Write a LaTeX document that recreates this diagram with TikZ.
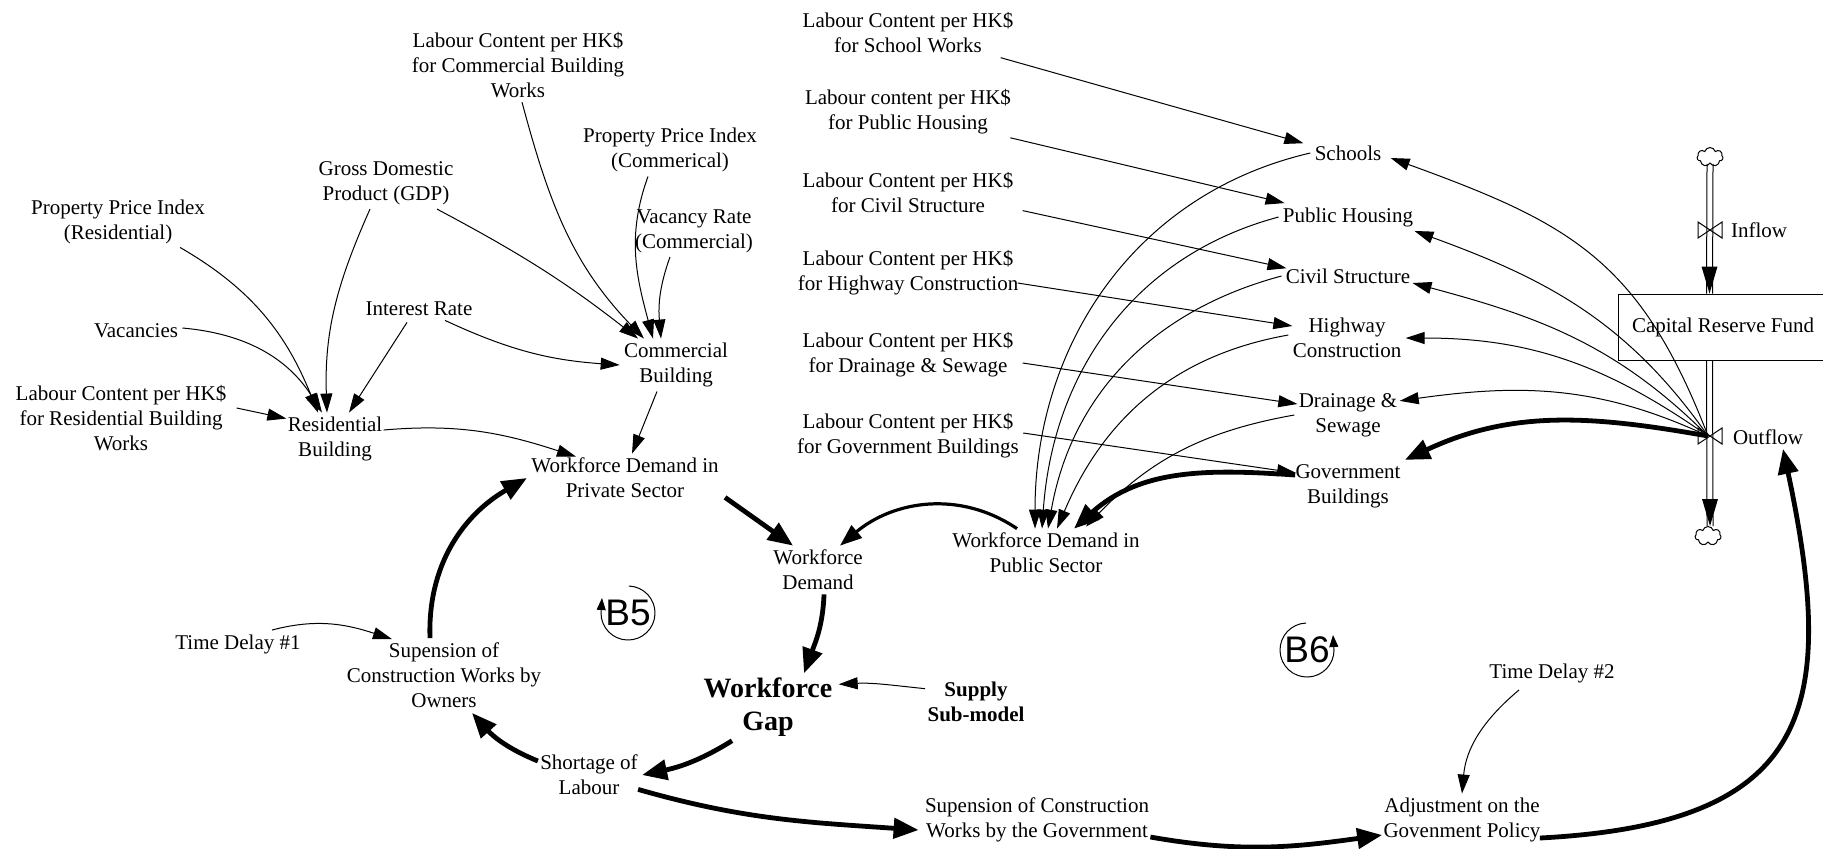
\documentclass[tikz,border=0pt]{standalone}
\usepackage{fontspec}
\setmainfont{Liberation Serif}
\newfontfamily\loopfont{Liberation Sans}
\usetikzlibrary{arrows.meta,calc,shapes.symbols}
\begin{document}
\begin{tikzpicture}[x=0.5pt,y=-0.5pt,
  lbl/.style={align=center,inner sep=2pt,font=\fontsize{10.5}{12.5}\selectfont},
  bold/.style={align=center,inner sep=2pt,font=\bfseries\fontsize{10.5}{12.5}\selectfont},
  big/.style={align=center,inner sep=2pt,font=\bfseries\fontsize{14}{16.5}\selectfont},
  loopsym/.style={inner sep=0pt,font=\loopfont\fontsize{18.5}{20}\selectfont},
  lnk/.style={line width=0.5pt,-{Triangle[length=9.5pt,width=6pt]}},
  lnkB/.style={line width=2.4pt,-{Triangle[length=12.5pt,width=10pt]}},
  lnkM/.style={line width=1.6pt,-{Triangle[length=11pt,width=8pt]}},
  looptip/.style={line width=0.5pt,-{Triangle[length=6pt,width=4.5pt]}},
  pipe/.style={line width=0.5pt},
  cloudy/.style={cloud,draw,line width=0.5pt,cloud puffs=7,aspect=1.4,minimum width=13pt,minimum height=9.5pt,inner sep=0pt},
]
\useasboundingbox (0,0) rectangle (1823,848);
\clip (0,0) rectangle (1823,848);

% ---------- left (private sector) ----------
\node[lbl] (labcom) at (518,65) {Labour Content per HK\$\\for Commercial Building\\Works};
\node[lbl] (ppicom) at (670,150) {Property Price Index\\(Commerical)};
\node[lbl] (gdp) at (386,183) {Gross Domestic\\Product (GDP)};
\node[lbl] (ppires) at (118,222) {Property Price Index\\(Residential)};
\node[lbl] (vacrate) at (694,231) {Vacancy Rate\\(Commercial)};
\node[lbl] (interest) at (419,309) {Interest Rate};
\node[lbl] (vacancies) at (136,331) {Vacancies};
\node[lbl] (commercial) at (676,365) {Commercial\\Building};
\node[lbl] (labres) at (121,418) {Labour Content per HK\$\\for Residential Building\\Works};
\node[lbl] (residential) at (335,439) {Residential\\Building};
\node[lbl] (wdpriv) at (625,478) {Workforce Demand in\\Private Sector};
\node[lbl] (wd) at (818,570) {Workforce\\Demand};
\node[lbl] (wdpub) at (1046,553) {Workforce Demand in\\Public Sector};
\node[big] (wg) at (768,707) {Workforce\\Gap};
\node[bold] (supply) at (976,702) {Supply\\Sub-model};
\node[lbl] (td1) at (238,644) {Time Delay \#1};
\node[lbl] (supown) at (444,675) {Supension of\\Construction Works by\\Owners};
\node[lbl] (shortage) at (589,775) {Shortage of\\Labour};
\node[lbl] (supgov) at (1037,820) {Supension of Construction\\Works by the Government};
\node[lbl] (adj) at (1462,820) {Adjustment on the\\Govenment Policy};
\node[lbl] (td2) at (1552,673) {Time Delay \#2};
\node[loopsym] (b5) at (628,613) {B5};
\node[loopsym] (b6) at (1307,650) {B6};

% ---------- right (public sector) ----------
\node[lbl] (labsch) at (908,33) {Labour Content per HK\$\\for School Works};
\node[lbl] (labph) at (908,112) {Labour content per HK\$\\for Public Housing};
\node[lbl] (labcivil) at (908,192) {Labour Content per HK\$\\for Civil Structure};
\node[lbl] (labhw) at (908,273) {Labour Content per HK\$\\for Highway Construction};
\node[lbl] (labdr) at (908,355) {Labour Content per HK\$\\for Drainage \& Sewage};
\node[lbl] (labgov) at (908,436) {Labour Content per HK\$\\for Government Buildings};
\node[lbl] (schools) at (1348,153) {Schools};
\node[lbl] (ph) at (1348,217) {Public Housing};
\node[lbl] (civil) at (1348,276) {Civil Structure};
\node[lbl] (hw) at (1347,338) {Highway\\Construction};
\node[lbl] (drain) at (1348,415) {Drainage \&\\Sewage};
\node[lbl] (gov) at (1348,486) {Government\\Buildings};

% ---------- stock and flows ----------
\node[draw,line width=0.5pt,minimum width=111pt,minimum height=33pt,inner sep=0pt] (crf) at (1729,327) {};
\node[lbl] (crftext) at (1723,327) {Capital Reserve Fund};
\node[cloudy] (cloudin) at (1710,157) {};
\node[cloudy] (cloudout) at (1708,536) {};
\coordinate (inval) at (1710,230);
\coordinate (outvalve) at (1708,436);
\coordinate (intop) at ($(crf.north west)+(92,0)$);
\coordinate (outbot) at ($(crf.south west)+(92,0)$);
\coordinate (outend) at ($(cloudout.north)+(2,0)$);
\node[lbl] (inlab) at (1759,230) {Inflow};
\node[lbl] (outlab) at (1768,437) {Outflow};

\draw[pipe] ($(cloudin.south)+(-3,0)$) -- ($(intop)+(-3,0)$);
\draw[pipe] ($(cloudin.south)+(3,0)$) -- ($(intop)+(3,0)$);
\fill ($(intop)+(-8,-27)$) -- (intop) -- ($(intop)+(8,-27)$) -- cycle;
\draw[pipe] ($(outbot)+(-3,0)$) -- ($(outend)+(-3,0)$);
\draw[pipe] ($(outbot)+(3,0)$) -- ($(outend)+(3,0)$);
\fill ($(outend)+(-8,-27)$) -- (outend) -- ($(outend)+(8,-27)$) -- cycle;
\draw[pipe] ($(inval)+(-12,-8)$) -- ($(inval)+(12,8)$) -- ($(inval)+(12,-8)$) -- ($(inval)+(-12,8)$) -- cycle;
\draw[pipe] ($(outvalve)+(-10,-8)$) -- ($(outvalve)+(14,8)$) -- ($(outvalve)+(14,-8)$) -- ($(outvalve)+(-10,8)$) -- cycle;

% ---------- loop symbols ----------
\draw[line width=0.5pt] ($(b5.center)+(88:13.5pt)$) arc[start angle=88,end angle=-180,radius=13.5pt];
\draw[looptip] ($(b5.center)+(180:13.5pt)$) -- ++(1,-15);
\draw[line width=0.5pt] ($(b6.center)+(92:13.5pt)$) arc[start angle=92,end angle=360,radius=13.5pt];
\draw[looptip] ($(b6.center)+(0:13.5pt)$) -- ++(-1,-15);

% ---------- private-sector links ----------
\draw[lnk] ($(labcom.south)+(4,0)$) to[out=285,in=134] ($(commercial.north)+(-32,0)$);
\draw[lnk] ($(gdp.south)+(51,0)$) to[out=332,in=142] ($(commercial.north)+(-38,0)$);
\draw[lnk] ($(gdp.south)+(-16,0)$) to[out=246,in=92] ($(residential.north)+(-8,0)$);
\draw[lnk] ($(ppicom.south)+(-22,0)$) to[out=250,in=105] ($(commercial.north)+(-23,0)$);
\draw[lnk] ($(vacrate.south)+(-24,0)$) to[out=250,in=95] ($(commercial.north)+(-15,0)$);
\draw[lnk] ($(interest.south)+(26,0)$) to[out=335,in=176] (commercial.west);
\draw[lnk] ($(interest.south)+(-12,2)$) -- ($(residential.north)+(14,0)$);
\draw[lnk] ($(ppires.south)+(62,-1)$) to[out=330,in=112] ($(residential.north)+(-17,0)$);
\draw[lnk] ($(vacancies.east)+(0,-3)$) to[out=355,in=122] ($(residential.north)+(-13,0)$);
\draw[lnk] ($(labres.east)+(6,-10)$) -- ($(residential.north west)+(3,6)$);
\draw[lnk] ($(residential.east)+(-3,-9)$) to[out=5,in=162] ($(wdpriv.north)+(-49,3)$);
\draw[lnk] ($(commercial.south)+(-19,0)$) -- ($(wdpriv.north)+(7,0)$);

% ---------- main loop links ----------
\draw[lnkB] ($(supown.north)+(-14,0)$) to[out=92,in=210] (wdpriv.west);
\draw[lnkB] ($(shortage.west)+(2,-14)$) to[out=158,in=312] ($(supown.south)+(28,1)$);
\draw[lnkB] ($(wg.south)+(-36,0)$) to[out=212,in=12] (shortage.east);
\draw[lnkB] ($(wd.south)+(6,0)$) to[out=268,in=70] ($(wg.north)+(36,0)$);
\draw[lnkB] ($(wdpriv.south east)+(2,-5)$) -- ($(wd.north)+(-25,0)$);
\draw[lnkM] ($(wdpub.north)+(-29,0)$) to[out=146,in=40] ($(wd.north)+(22,0)$);
\draw[lnk] ($(supply.north west)+(2,11)$) to[out=174,in=3] ($(wg.north east)+(2,11)$);
\draw[lnk] ($(td1.north)+(34,0)$) to[out=15,in=162] ($(supown.north)+(-52,1)$);
\draw[lnkB] ($(shortage.south east)+(-4,-10)$) to[out=344,in=176] ($(supgov.west)+(-2,10)$);
\draw[lnkB] ($(supgov.east)+(-3,17)$) to[out=350,in=188] ($(adj.west)+(3,15)$);
\draw[lnk] ($(td2.south)+(-33,3)$) to[out=220,in=85] (adj.north);
\draw[lnkB] ($(adj.east)+(-5,18)$) to[out=3,in=282,looseness=1.5] ($(outlab.south)+(15,0)$);
\draw[lnkB] (outvalve) to[out=170,in=25] (gov.north east);
\draw[lnkB] ($(gov.west)+(4,-11)$) to[out=176,in=42] ($(wdpub.north)+(28,0)$);

% ---------- public-sector fan ----------
\draw[lnk] (schools.west) to[out=193,in=90] ($(wdpub.north)+(-11,0)$);
\draw[lnk] (ph.west) to[out=195,in=86] ($(wdpub.north)+(-4,0)$);
\draw[lnk] (civil.west) to[out=195,in=80] ($(wdpub.north)+(2,0)$);
\draw[lnk] ($(hw.west)+(0,-3)$) to[out=190,in=67] ($(wdpub.north)+(11,0)$);
\draw[lnk] (drain.west) to[out=190,in=46] ($(wdpub.north)+(40,-2)$);

\draw[lnk] (outvalve) to[out=111,in=340,looseness=1.15] ($(schools.east)+(5,5)$);
\draw[lnk] (outvalve) to[out=125,in=340] ($(ph.south east)+(-3,0)$);
\draw[lnk] (outvalve) to[out=135,in=345] ($(civil.east)+(-2,7)$);
\draw[lnk] (outvalve) to[out=145,in=0] (hw.east);
\draw[lnk] (outvalve) to[out=155,in=8] ($(drain.north east)+(-2,12)$);

\draw[lnk] ($(labsch.south east)+(-17,0)$) -- ($(schools.north west)+(-7,2)$);
\draw[lnk] ($(labph.south east)+(-5,-1)$) -- ($(ph.north west)+(6,0)$);
\draw[lnk] ($(labcivil.south east)+(5,-6)$) -- ($(civil.north west)+(5,4)$);
\draw[lnk] ($(labhw.east)+(-5,10)$) -- ($(hw.west)+(4,-12)$);
\draw[lnk] ($(labdr.east)+(5,8)$) -- ($(drain.west)+(3,-11)$);
\draw[lnk] ($(labgov.east)+(0,-3)$) -- ($(gov.west)+(5,-13)$);
\end{tikzpicture}
\end{document}
